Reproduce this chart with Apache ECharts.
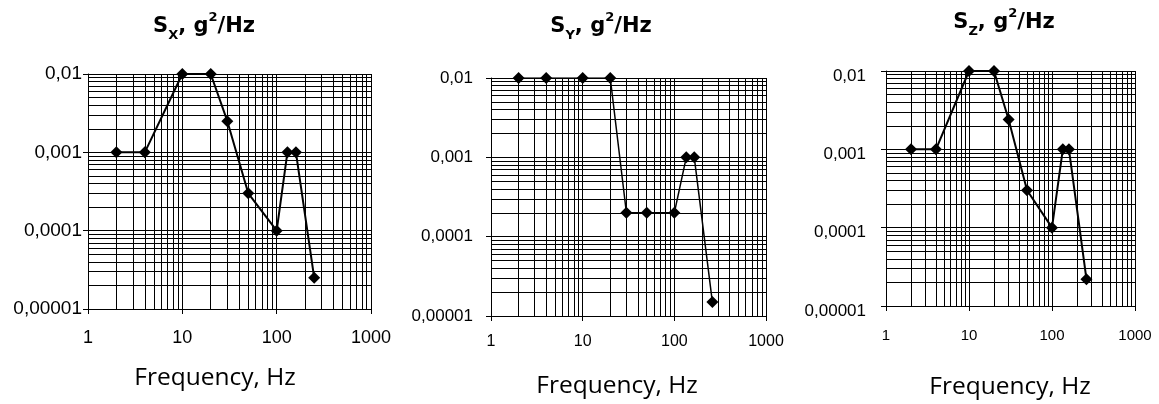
<!DOCTYPE html>
<html><head><meta charset="utf-8">
<script src="https://cdn.jsdelivr.net/npm/echarts@6/dist/echarts.min.js"></script>
<style>html,body{margin:0;padding:0;background:#fff}#c{width:1159px;height:404px}</style>
</head><body><div id="c"></div>
<script>
// ---- data ----
const freqX = [2, 4, 10, 20, 30, 50, 100, 130, 160, 250];
const psdX  = [0.001, 0.001, 0.01, 0.01, 0.0025, 0.0003, 0.0001, 0.001, 0.001, 0.000025];
const freqY = [2, 4, 10, 20, 30, 50, 100, 135, 165, 260];
const psdY  = [0.01, 0.01, 0.01, 0.01, 0.0002, 0.0002, 0.0002, 0.001, 0.001, 0.000015];
const freqZ = [2, 4, 10, 20, 30, 50, 100, 135, 160, 260];
const psdZ  = [0.001, 0.001, 0.01, 0.01, 0.0024, 0.0003, 0.0001, 0.001, 0.001, 0.000022];
const xTickLabels = ['1', '10', '100', '1000'];
const yTickLabels = ['0,00001', '0,0001', '0,001', '0,01'];
const xMinorGrid = [2, 3, 4, 5, 6, 7, 8, 9, 20, 30, 40, 50, 60, 70, 80, 90, 200, 300, 400, 500, 600, 700, 800, 900];
const yMinorGrid = [0.00002, 0.00003, 0.00004, 0.00005, 0.00006, 0.00007, 0.00008, 0.00009,
                    0.0002, 0.0003, 0.0004, 0.0005, 0.0006, 0.0007, 0.0008, 0.0009,
                    0.002, 0.003, 0.004, 0.005, 0.006, 0.007, 0.008, 0.009];
const xRange = [1, 1000];
const yRange = [0.00001, 0.01];
const axisTitle = 'Frequency, Hz';
const subscripts = ['X', 'Y', 'Z'];

// ---- layout ----
const panels = [
  { grid: {left: 88, top: 74, width: 283, height: 235}, yFs: 19, yMargin: 6, yShift: false, xFs: 18, xMargin: 20,
    title: [204, 27], name: [215, 378], lw: 2, freq: freqX, psd: psdX },
  { grid: {left: 491, top: 78, width: 275, height: 238}, yFs: 17, yMargin: 18, yShift: false, xFs: 16, xMargin: 18,
    title: [601, 27], name: [617, 386], lw: 1.5, freq: freqY, psd: psdY },
  { grid: {left: 886, top: 71, width: 249, height: 235}, yFs: 17, yMargin: 20, yShift: true, xFs: 15, xMargin: 22,
    title: [1004, 23], name: [1010, 387], lw: 2, freq: freqZ, psd: psdZ }
];

const TFONT = 'DejaVu Sans';
const FONT = 'Open Sans';
const LBL = 'Liberation Sans';
const gridLine = {color: '#000', width: 1, type: 'solid'};

const option = {
  backgroundColor: '#fff',
  animation: false,
  grid: panels.map(p => Object.assign({show: false, containLabel: false, outerBoundsMode: 'none'}, p.grid)),
  xAxis: panels.map((p, i) => ({
    type: 'log', logBase: 10, min: xRange[0], max: xRange[1], gridIndex: i,
    axisLine: {show: true, lineStyle: {color: '#000', width: 1}},
    axisTick: {show: true, length: 5, lineStyle: {color: '#000'}},
    splitLine: {show: true, lineStyle: gridLine},
    axisLabel: {fontFamily: LBL, fontSize: p.xFs, color: '#000', margin: p.xMargin, showMinLabel: true, showMaxLabel: true,
      formatter: v => xTickLabels[Math.round(Math.log10(v))]}
  })),
  yAxis: panels.map((p, i) => {
    const lbl = {fontFamily: LBL, fontSize: p.yFs, color: '#000', margin: p.yMargin,
      showMinLabel: true, showMaxLabel: true,
      formatter: v => yTickLabels[Math.round(Math.log10(v)) + 5]};
    if (p.yShift) { lbl.verticalAlign = 'top'; lbl.lineHeight = 10; }
    return {
      type: 'log', logBase: 10, min: yRange[0], max: yRange[1], gridIndex: i,
      axisLine: {show: true, lineStyle: {color: '#000', width: 1}},
      axisTick: {show: true, length: 5, lineStyle: {color: '#000'}},
      splitLine: {show: true, lineStyle: gridLine},
      axisLabel: lbl
    };
  }),
  series: panels.map((p, i) => ({
    type: 'line', xAxisIndex: i, yAxisIndex: i,
    data: p.freq.map((f, j) => [f, p.psd[j]]),
    symbol: 'diamond', symbolSize: 12,
    lineStyle: {color: '#000', width: p.lw},
    itemStyle: {color: '#000'},
    z: 5,
    markLine: {
      silent: true, symbol: ['none', 'none'], label: {show: false}, animation: false,
      lineStyle: gridLine, z: 1,
      data: xMinorGrid.map(v => [{coord: [v, yRange[0]]}, {coord: [v, yRange[1]]}])
        .concat(yMinorGrid.map(v => [{coord: [xRange[0], v]}, {coord: [xRange[1], v]}]))
    }
  })),
  graphic: panels.flatMap((p, i) => [
    {type: 'text', x: p.title[0], y: p.title[1], silent: true,
      style: {text: '{m|S}{s|' + subscripts[i] + '}{m|, g}{p|2}{m|/Hz}', align: 'center', verticalAlign: 'middle', fill: '#000',
        rich: {
          m: {fontFamily: TFONT, fontSize: 21, fontWeight: 'bold', lineHeight: 31, fill: '#000'},
          s: {fontFamily: TFONT, fontSize: 13, fontWeight: 'bold', lineHeight: 13, verticalAlign: 'bottom', fill: '#000'},
          p: {fontFamily: TFONT, fontSize: 13, fontWeight: 'bold', lineHeight: 13, verticalAlign: 'top', fill: '#000'}
        }}},
    {type: 'text', x: p.name[0], y: p.name[1], silent: true,
      style: {text: axisTitle, align: 'center', verticalAlign: 'middle', fill: '#000', fontFamily: FONT, fontSize: 24.5}}
  ])
};

const chart = echarts.init(document.getElementById('c'), null, {renderer: 'canvas'});
chart.setOption(option);
</script>
</body></html>
